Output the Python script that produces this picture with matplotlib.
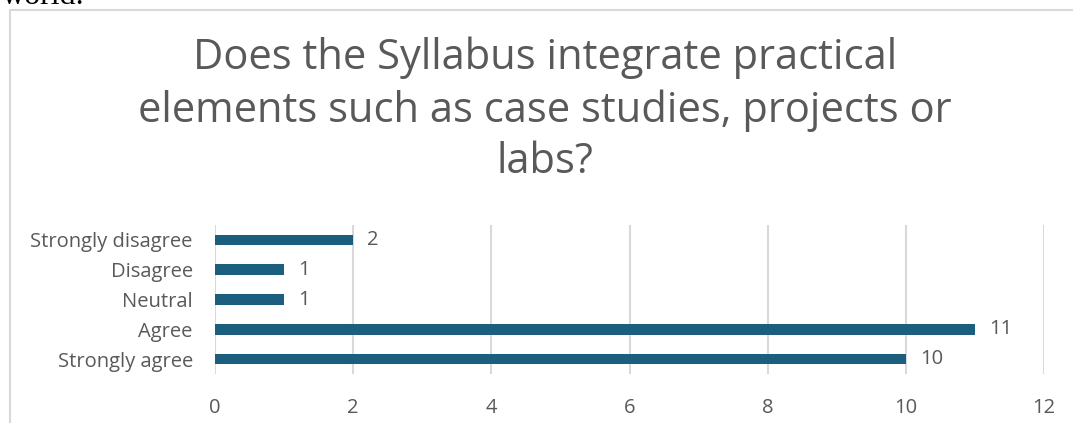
import matplotlib.pyplot as plt
from matplotlib.patches import Rectangle

# Survey answers
categories = ['Strongly agree', 'Agree', 'Neutral', 'Disagree', 'Strongly disagree']
counts = [10, 11, 1, 1, 2]
xticks = [0, 2, 4, 6, 8, 10, 12]
title = 'Does the Syllabus integrate practical\nelements such as case studies, projects or\nlabs?'

bar_color = '#1B5E7E'
text_color = '#595959'
grid_color = '#D9D9D9'

plt.rcParams['font.family'] = ['Open Sans', 'DejaVu Sans']

fig = plt.figure(figsize=(10.73, 4.23), dpi=100)

# chart frame from the document, cut off at right and bottom
fig.patches.append(Rectangle((10 / 1073, -0.1), 1.2, 1 - 10 / 423 + 0.1,
                             transform=fig.transFigure, fill=False,
                             edgecolor=grid_color, linewidth=1.5))
# leftover text of the page above the chart
fig.text(0.002, 1 - 4 / 423, 'world.', family='Liberation Serif', fontsize=23,
         color='black', va='baseline')

ax = fig.add_axes([215 / 1073, 1 - 374 / 423, 829 / 1073, 149 / 423])
bars = ax.barh(range(len(categories)), counts, height=0.36, color=bar_color)
ax.bar_label(bars, padding=10, fontsize=14.5, color=text_color)

ax.set_yticks(range(len(categories)))
ax.set_yticklabels(categories, fontsize=14.5, color=text_color)
ax.set_xticks(xticks)
ax.set_xticklabels([str(t) for t in xticks], fontsize=14.5, color=text_color)
ax.set_xlim(0, 12)
ax.set_ylim(-0.5, 4.5)
ax.tick_params(axis='both', length=0)
ax.tick_params(axis='x', pad=17)
ax.tick_params(axis='y', pad=16)
ax.grid(axis='x', color=grid_color, linewidth=1.5)
ax.set_axisbelow(True)
for s in ax.spines.values():
    s.set_visible(False)

fig.text(0.508, 1 - 110 / 423, title, ha='center', va='center', fontsize=30,
         color=text_color, linespacing=1.3)

fig.savefig('out.png', dpi=100)
